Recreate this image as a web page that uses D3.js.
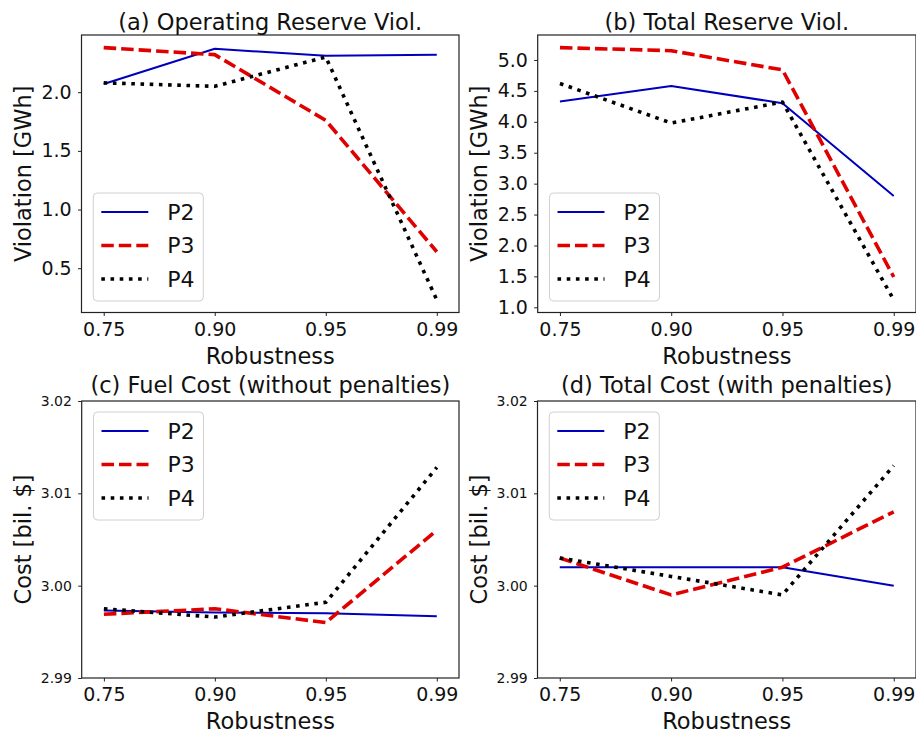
<!DOCTYPE html>
<html>
<head>
<meta charset="utf-8">
<script src="https://cdn.jsdelivr.net/npm/d3@7"></script>
<style>
  body { margin: 0; background: #fff; }
  svg { display: block; font-family: "DejaVu Sans", sans-serif; }
</style>
</head>
<body>
<div id="chart"></div>
<script>
// robustness levels on the x axis (categorical)
const categories = ['0.75', '0.90', '0.95', '0.99'];
const seriesNames = ['P2', 'P3', 'P4'];

// (a) operating reserve violation [GWh]
const opResP2 = [2.07, 2.37, 2.31, 2.32];
const opResP3 = [2.38, 2.32, 1.76, 0.64];
const opResP4 = [2.08, 2.05, 2.30, 0.23];

// (b) total reserve violation [GWh]
const totResP2 = [4.33, 4.58, 4.30, 2.80];
const totResP3 = [5.20, 5.15, 4.84, 1.49];
const totResP4 = [4.62, 3.98, 4.32, 1.12];

// (c) fuel cost [bil. $]
const fuelP2 = [2.9973, 2.9971, 2.9970, 2.9967];
const fuelP3 = [2.9969, 2.9975, 2.9960, 3.0060];
const fuelP4 = [2.9975, 2.9966, 2.9982, 3.0128];

// (d) total cost [bil. $]
const totalP2 = [3.0020, 3.0020, 3.0020, 3.0000];
const totalP3 = [3.0030, 2.9990, 3.0020, 3.0080];
const totalP4 = [3.0030, 3.0010, 2.9990, 3.0130];

const violTicks = [0.5, 1.0, 1.5, 2.0];
const totViolTicks = [1.0, 1.5, 2.0, 2.5, 3.0, 3.5, 4.0, 4.5, 5.0];
const costTicks = [2.99, 3.00, 3.01, 3.02];
const costDomain = [2.99, 3.02];

const styles = {
  P2: { color: '#0000bb', width: 2, dash: null },
  P3: { color: '#e00000', width: 3.6, dash: '12.5,5' },
  P4: { color: '#000', width: 3.6, dash: '3.6,5.6' }
};

const panels = [
  { title: '(a) Operating Reserve Viol.', ylabel: 'Violation [GWh]', series: [opResP2, opResP3, opResP4],
    ticks: violTicks, fmt: '.1f', tickFont: 19, domain: null, legendPos: 'bottom',
    box: { left: 81.5, right: 459, top: 35, bottom: 312.5 }, titleY: 29.5 },
  { title: '(b) Total Reserve Viol.', ylabel: 'Violation [GWh]', series: [totResP2, totResP3, totResP4],
    ticks: totViolTicks, fmt: '.1f', tickFont: 19, domain: null, legendPos: 'bottom',
    box: { left: 537.7, right: 916, top: 35, bottom: 312.5 }, titleY: 29.5 },
  { title: '(c) Fuel Cost (without penalties)', ylabel: 'Cost [bil. $]', series: [fuelP2, fuelP3, fuelP4],
    ticks: costTicks, fmt: '.2f', tickFont: 14, domain: costDomain, legendPos: 'top',
    box: { left: 81.7, right: 459, top: 401, bottom: 678 }, titleY: 393 },
  { title: '(d) Total Cost (with penalties)', ylabel: 'Cost [bil. $]', series: [totalP2, totalP3, totalP4],
    ticks: costTicks, fmt: '.2f', tickFont: 14, domain: costDomain, legendPos: 'top',
    box: { left: 537.5, right: 916, top: 401, bottom: 678 }, titleY: 393 }
];

const W = 916, H = 733;
const svg = d3.select('#chart').append('svg')
  .attr('width', W)
  .attr('height', H);
svg.append('rect').attr('width', W).attr('height', H).attr('fill', '#fff');

panels.forEach(p => {
  const b = p.box;
  const x = d3.scalePoint().domain(categories).range([b.left, b.right]).padding(0.2);

  let dom = p.domain;
  if (!dom) {
    const all = p.series.flat();
    const lo = d3.min(all), hi = d3.max(all), pad = (hi - lo) * 0.05;
    dom = [lo - pad, hi + pad];
  }
  const y = d3.scaleLinear().domain(dom).range([b.bottom, b.top]);

  const g = svg.append('g');

  // x axis
  const xa = g.append('g')
    .attr('transform', `translate(0,${b.bottom})`)
    .call(d3.axisBottom(x).tickSize(3.5).tickPadding(6.5));
  xa.select('.domain').remove();
  xa.selectAll('text').attr('font-size', 19).attr('fill', '#111').attr('font-family', 'DejaVu Sans');
  xa.selectAll('line').attr('stroke', '#222');

  // y axis
  const ya = g.append('g')
    .attr('transform', `translate(${b.left},0)`)
    .call(d3.axisLeft(y).tickValues(p.ticks).tickFormat(d3.format(p.fmt)).tickSize(3.5).tickPadding(6.3));
  ya.select('.domain').remove();
  ya.selectAll('text').attr('font-size', p.tickFont).attr('fill', '#111').attr('font-family', 'DejaVu Sans');
  ya.selectAll('line').attr('stroke', '#222');

  // lines
  const line = d3.line().x((d, i) => x(categories[i])).y(d => y(d));
  const clipId = 'clip' + p.title.charAt(1);
  g.append('clipPath').attr('id', clipId)
    .append('rect').attr('x', b.left).attr('y', b.top)
    .attr('width', b.right - b.left).attr('height', b.bottom - b.top);
  p.series.forEach((s, k) => {
    const st = styles[seriesNames[k]];
    g.append('path')
      .datum(s)
      .attr('clip-path', `url(#${clipId})`)
      .attr('fill', 'none')
      .attr('stroke', st.color)
      .attr('stroke-width', st.width)
      .attr('stroke-dasharray', st.dash)
      .attr('stroke-linejoin', 'round')
      .attr('d', line);
  });

  // frame
  g.append('rect')
    .attr('x', b.left).attr('y', b.top)
    .attr('width', b.right - b.left).attr('height', b.bottom - b.top)
    .attr('fill', 'none').attr('stroke', '#222').attr('stroke-width', 1.2);

  // legend
  const lw = 110, lh = 108;
  const lx = b.left + 11.8;
  const ly = p.legendPos === 'bottom' ? b.bottom - 11.5 - lh : b.top + 11;
  const leg = g.append('g').attr('transform', `translate(${lx},${ly})`);
  leg.append('rect')
    .attr('width', lw).attr('height', lh).attr('rx', 4)
    .attr('fill', '#fff').attr('fill-opacity', 0.8)
    .attr('stroke', '#d0d0d0').attr('stroke-width', 1);
  seriesNames.forEach((name, k) => {
    const st = styles[name];
    const cy = 19 + k * 33.5;
    leg.append('line')
      .attr('x1', 8).attr('x2', 55).attr('y1', cy).attr('y2', cy)
      .attr('stroke', st.color).attr('stroke-width', st.width)
      .attr('stroke-dasharray', st.dash);
    leg.append('text')
      .attr('x', 74).attr('y', cy).attr('dy', '0.36em')
      .attr('font-size', 22).attr('fill', '#111')
      .text(name);
  });

  // title
  g.append('text')
    .attr('x', (b.left + b.right) / 2).attr('y', p.titleY)
    .attr('text-anchor', 'middle').attr('font-size', 22.5).attr('fill', '#111')
    .text(p.title);

  // x label
  g.append('text')
    .attr('x', (b.left + b.right) / 2).attr('y', b.bottom + 51)
    .attr('text-anchor', 'middle').attr('font-size', 22.5).attr('fill', '#111')
    .text('Robustness');

  // y label
  g.append('text')
    .attr('transform', `translate(${b.left - 50.5},${(b.top + b.bottom) / 2}) rotate(-90)`)
    .attr('text-anchor', 'middle').attr('font-size', 22.5).attr('fill', '#111')
    .text(p.ylabel);
});
</script>
</body>
</html>
